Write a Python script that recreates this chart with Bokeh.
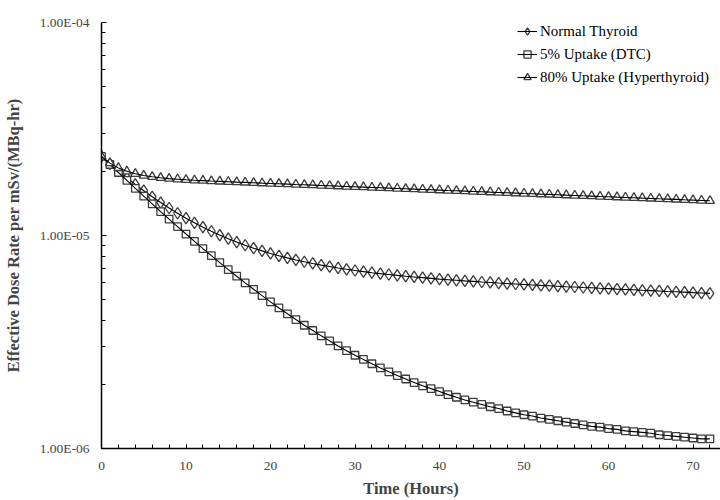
from bokeh.plotting import figure
from bokeh.models import FixedTicker, CustomJSTickFormatter, Legend, LegendItem
from bokeh.embed import file_html
from bokeh.resources import INLINE

# Time after administration (hours)
hours = list(range(0, 73))

# Effective dose rate per mSv/(MBq-hr), in units of 1e-6
normal_thyroid = [
    23.50, 21.70, 20.09, 18.66, 17.37, 16.23, 15.20, 14.28, 13.46, 12.72,
    12.06, 11.47, 10.94, 10.47, 10.04, 9.66, 9.31, 9.00, 8.72, 8.47,
    8.24, 8.03, 7.85, 7.68, 7.53, 7.39, 7.26, 7.15, 7.04, 6.94,
    6.85, 6.77, 6.69, 6.62, 6.56, 6.50, 6.44, 6.39, 6.34, 6.29,
    6.24, 6.20, 6.16, 6.12, 6.09, 6.05, 6.02, 5.98, 5.95, 5.92,
    5.89, 5.86, 5.83, 5.81, 5.78, 5.75, 5.73, 5.70, 5.68, 5.65,
    5.63, 5.60, 5.58, 5.56, 5.53, 5.51, 5.49, 5.46, 5.44, 5.42,
    5.39, 5.37, 5.35,
]
uptake_5_dtc = [
    23.50, 21.54, 19.76, 18.13, 16.65, 15.30, 14.07, 12.95, 11.93, 11.01,
    10.16, 9.39, 8.68, 8.04, 7.46, 6.92, 6.44, 5.99, 5.59, 5.22,
    4.88, 4.57, 4.29, 4.03, 3.79, 3.58, 3.38, 3.20, 3.03, 2.88,
    2.74, 2.62, 2.50, 2.39, 2.29, 2.20, 2.12, 2.04, 1.97, 1.91,
    1.85, 1.79, 1.74, 1.69, 1.65, 1.61, 1.57, 1.54, 1.50, 1.47,
    1.44, 1.42, 1.39, 1.37, 1.35, 1.33, 1.31, 1.29, 1.27, 1.26,
    1.24, 1.23, 1.21, 1.20, 1.19, 1.18, 1.16, 1.15, 1.14, 1.13,
    1.12, 1.11, 1.11,
]
uptake_80_hyper = [
    23.50, 21.87, 20.77, 20.02, 19.49, 19.12, 18.86, 18.66, 18.50, 18.38,
    18.27, 18.18, 18.10, 18.02, 17.95, 17.88, 17.81, 17.75, 17.68, 17.61,
    17.55, 17.49, 17.43, 17.36, 17.30, 17.24, 17.18, 17.12, 17.05, 16.99,
    16.93, 16.87, 16.81, 16.75, 16.69, 16.63, 16.57, 16.51, 16.45, 16.39,
    16.33, 16.27, 16.22, 16.16, 16.10, 16.04, 15.98, 15.93, 15.87, 15.81,
    15.75, 15.70, 15.64, 15.59, 15.53, 15.47, 15.42, 15.36, 15.31, 15.25,
    15.20, 15.14, 15.09, 15.04, 14.98, 14.93, 14.87, 14.82, 14.77, 14.71,
    14.66, 14.61, 14.55,
]
UNIT = 1e-6

labels = ["Normal Thyroid", "5% Uptake (DTC)", "80% Uptake (Hyperthyroid)"]
x_major = [0, 10, 20, 30, 40, 50, 60, 70]
y_major = [1e-6, 1e-5, 1e-4]

FONT = "Liberation Serif"
EDGE = "#3c3c3c"

p = figure(width=720, height=500, x_range=(0, 73.25), y_range=(1e-6, 1e-4),
           y_axis_type="log", output_backend="svg", toolbar_location=None,
           min_border_left=101, min_border_top=22, min_border_bottom=52,
           min_border_right=0)
p.outline_line_color = None
p.xgrid.visible = False
p.ygrid.visible = False
p.background_fill_color = "white"

series = [
    (normal_thyroid, dict(marker="diamond", size=11.5)),
    (uptake_5_dtc, dict(marker="square", size=7.5)),
    (uptake_80_hyper, dict(marker="triangle", size=9)),
]
items = []
for (vals, mk), lab in zip(series, labels):
    ys = [v * UNIT for v in vals]
    r1 = p.scatter(hours, ys, fill_color="white", line_color=EDGE,
                   line_width=1.3, **mk)
    r2 = p.line(hours, ys, line_color="black", line_width=1.1)
    items.append(LegendItem(label=lab, renderers=[r1, r2]))

legend = Legend(items=items, location=(416, 362), padding=0, margin=0,
                spacing=5, glyph_width=20, glyph_height=18, label_height=18,
                label_standoff=3,
                label_text_font=FONT, label_text_font_size="15px",
                label_text_color="black", border_line_color=None,
                background_fill_alpha=0)
p.add_layout(legend, "center")

# x axis
xa = p.xaxis[0]
xa.ticker = FixedTicker(ticks=x_major, minor_ticks=list(range(0, 74, 2)))
xa.axis_label = "Time (Hours)"
xa.axis_label_text_font = FONT
xa.axis_label_text_font_style = "bold"
xa.axis_label_text_font_size = "16.5px"
xa.axis_label_standoff = 6
xa.major_label_text_font = FONT
xa.major_label_text_font_size = "13.5px"
xa.major_label_standoff = 13
xa.major_tick_in = 4
xa.major_tick_out = 0
xa.minor_tick_in = 4
xa.minor_tick_out = 0
xa.axis_line_width = 1.5
xa.axis_line_color = "black"
xa.major_tick_line_color = "black"
xa.minor_tick_line_color = "black"

# y axis
ya = p.yaxis[0]
ya.ticker = FixedTicker(ticks=y_major,
                        minor_ticks=[k * 1e-6 for k in range(2, 10)] + [k * 1e-5 for k in range(2, 10)])
ya.formatter = CustomJSTickFormatter(code="""
const s = tick.toExponential(2).toUpperCase();
const m = s.match(/^(.*E)([+-])(\\d+)$/);
if (!m) return s;
let d = m[3]; if (d.length < 2) d = "0" + d;
return m[1] + m[2] + d;
""")
ya.axis_label = "Effective Dose Rate per mSv/(MBq-hr)"
ya.axis_label_text_font = FONT
ya.axis_label_text_font_style = "bold"
ya.axis_label_text_font_size = "16.5px"
ya.axis_label_standoff = 14
ya.major_label_text_font = FONT
ya.major_label_text_font_size = "13.5px"
ya.major_label_standoff = 12
ya.major_tick_in = 5
ya.major_tick_out = 0
ya.minor_tick_in = 4
ya.minor_tick_out = 0
ya.axis_line_width = 1.5
ya.axis_line_color = "black"
ya.major_tick_line_color = "black"
ya.minor_tick_line_color = "black"

open("out.html", "w").write(file_html(p, INLINE))
